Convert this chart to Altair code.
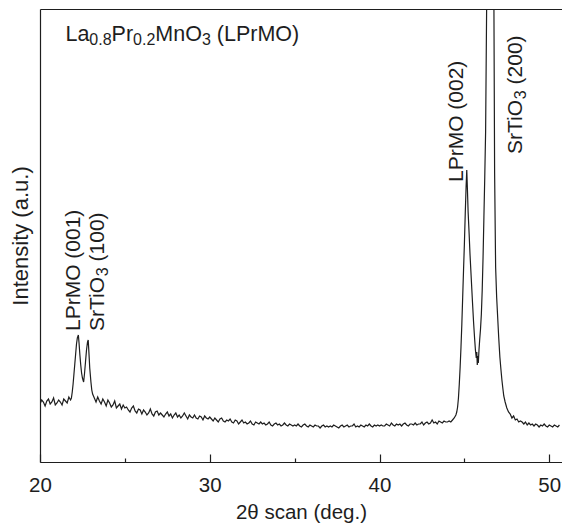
import altair as alt
import pandas as pd

# ---------------- data ----------------
# 2-theta (deg.) and intensity (arbitrary units)
two_theta = [
    20.0, 20.1, 20.2, 20.3, 20.4, 20.5, 20.6, 20.7, 20.8, 20.9,
    21.0, 21.1, 21.2, 21.3, 21.4, 21.5, 21.6, 21.7, 21.8,
    21.85, 21.9, 21.95, 22.0, 22.05, 22.1, 22.15, 22.2, 22.26, 22.3,
    22.35, 22.4, 22.45, 22.5, 22.57, 22.62, 22.68, 22.74, 22.8, 22.84,
    22.88, 22.93, 23.0, 23.05, 23.1, 23.2,
    23.3, 23.4, 23.5, 23.6, 23.7, 23.8, 23.9, 24.0,
    24.1, 24.2, 24.3, 24.4, 24.5, 24.6, 24.7, 24.8, 24.9, 25.0,
    25.1, 25.2, 25.3, 25.4, 25.5, 25.6, 25.7, 25.8, 25.9, 26.0,
    26.1, 26.2, 26.3, 26.4, 26.5, 26.6, 26.7, 26.8, 26.9, 27.0,
    27.1, 27.2, 27.3, 27.4, 27.5, 27.6, 27.7, 27.8, 27.9, 28.0,
    28.1, 28.2, 28.3, 28.4, 28.5, 28.6, 28.7, 28.8, 28.9, 29.0,
    29.1, 29.2, 29.3, 29.4, 29.5, 29.6, 29.7, 29.8, 29.9, 30.0,
    30.1, 30.2, 30.3, 30.4, 30.5, 30.6, 30.7, 30.8, 30.9, 31.0,
    31.1, 31.2, 31.3, 31.4, 31.5, 31.6, 31.7, 31.8, 31.9, 32.0,
    32.1, 32.2, 32.3, 32.4, 32.5, 32.6, 32.7, 32.8, 32.9, 33.0,
    33.1, 33.2, 33.3, 33.4, 33.5, 33.6, 33.7, 33.8, 33.9, 34.0,
    34.1, 34.2, 34.3, 34.4, 34.5, 34.6, 34.7, 34.8, 34.9, 35.0,
    35.1, 35.2, 35.3, 35.4, 35.5, 35.6, 35.7, 35.8, 35.9, 36.0,
    36.1, 36.2, 36.3, 36.4, 36.5, 36.6, 36.7, 36.8, 36.9, 37.0,
    37.1, 37.2, 37.3, 37.4, 37.5, 37.6, 37.7, 37.8, 37.9, 38.0,
    38.1, 38.2, 38.3, 38.4, 38.5, 38.6, 38.7, 38.8, 38.9, 39.0,
    39.1, 39.2, 39.3, 39.4, 39.5, 39.6, 39.7, 39.8, 39.9, 40.0,
    40.1, 40.2, 40.3, 40.4, 40.5, 40.6, 40.7, 40.8, 40.9, 41.0,
    41.1, 41.2, 41.3, 41.4, 41.5, 41.6, 41.7, 41.8, 41.9, 42.0,
    42.1, 42.2, 42.3, 42.4, 42.5, 42.6, 42.7, 42.8, 42.9, 43.0,
    43.1, 43.2, 43.3, 43.4, 43.5, 43.6, 43.7, 43.8, 43.9, 44.0,
    44.1, 44.2, 44.3, 44.4,
    44.5, 44.55, 44.6, 44.65, 44.7, 44.75, 44.8, 44.85, 44.9, 44.95,
    45.0, 45.05, 45.1, 45.14, 45.18, 45.22, 45.28, 45.33, 45.4, 45.47,
    45.54, 45.6, 45.65, 45.7, 45.73, 45.76, 45.79, 45.82, 45.86, 45.9,
    45.95, 46.0, 46.05, 46.1, 46.15, 46.2, 46.25, 46.31, 46.38, 46.5,
    46.62, 46.74, 46.78, 46.84, 46.9, 46.96, 47.02, 47.09, 47.15, 47.21,
    47.27, 47.32, 47.4, 47.5, 47.6, 47.7, 47.8, 47.9, 48.0, 48.1,
    48.2, 48.3,
    48.4, 48.5, 48.6, 48.7, 48.8, 48.9, 49.0, 49.1, 49.2, 49.3,
    49.4, 49.5, 49.6, 49.7, 49.8, 49.9, 50.0, 50.1, 50.2, 50.3,
    50.4, 50.5, 50.6,
]
intensity = [
    58, 62, 60, 56, 61, 63, 58, 60, 64, 57,
    59, 62, 60, 57, 63, 61, 59, 65, 62,
    64, 70, 78, 88, 98, 108, 118, 124, 127, 119,
    107, 97, 89, 84, 80, 88, 100, 112, 120, 122,
    110, 94, 80, 72, 68, 64,
    60, 65, 61, 58, 63, 60, 56, 62,
    59, 55, 57, 61, 54, 56, 58, 53, 57, 54,
    55, 52, 50, 54, 56, 51, 49, 53, 52, 48,
    52, 50, 47, 49, 53, 48, 46, 50, 51, 47,
    49, 47, 45, 48, 50, 46, 48, 44, 47, 49,
    45, 47, 44, 46, 49, 46, 43, 47, 45, 44,
    47, 44, 43, 46, 45, 42, 46, 44, 43, 45,
    43, 41, 44, 42, 40, 43, 44, 41, 40, 42,
    41, 43, 40, 39, 42, 41, 38, 40, 42, 39,
    40, 38, 39, 41, 38, 37, 40, 39, 38, 40,
    38, 39, 37, 38, 40, 37, 36, 38, 39, 37,
    38, 36, 37, 39, 37, 36, 38, 37, 36, 37,
    36, 38, 36, 35, 37, 38, 36, 35, 37, 36,
    35, 37, 36, 36, 34, 36, 37, 35, 36, 35,
    36, 35, 37, 36, 35, 34, 36, 37, 35, 36,
    37, 35, 36, 36, 38, 35, 36, 35, 37, 36,
    35, 37, 36, 38, 36, 35, 37, 36, 37, 36,
    37, 36, 36, 38, 37, 36, 39, 37, 36, 38,
    37, 38, 36, 38, 39, 37, 36, 38, 38, 37,
    39, 37, 38, 38, 40, 37, 39, 40, 38, 39,
    42, 39, 40, 38, 41, 40, 39, 41, 40, 40,
    41, 40, 42, 44,
    47, 50, 55, 64, 78, 95, 115, 138, 165, 192,
    218, 248, 275, 292, 272, 250, 228, 208, 185, 162,
    140, 124, 112, 104, 110, 97, 106, 99, 112, 122,
    133, 148, 172, 205, 245, 285, 330, 454, 800, 1500,
    800, 454, 290, 195, 165, 145, 125, 105, 93, 82,
    73, 66, 60, 54, 50, 48, 44, 46, 42, 43,
    40, 41,
    40, 38, 40, 37, 39, 37, 38, 36, 38, 37,
    35, 37, 36, 38, 36, 35, 37, 36, 35, 37,
    36, 35, 37,
]

x_ticks_major = [20, 30, 40, 50]
x_ticks_minor = [25, 35, 45]
x_domain = [20, 50.75]
y_domain = [0, 453]

x_title = "2θ scan (deg.)"
y_title = "Intensity (a.u.)"

# compound title: (text, is_subscript)
title_pieces = [("La", False), ("0.8", True), ("Pr", False), ("0.2", True),
                ("MnO", False), ("3", True), (" (LPrMO)", False)]
title_anchor = (21.5, 421)

# peak labels: anchor (2theta, intensity) and pieces
peak_labels = [
    ((22.33, 131), [("LPrMO (001)", False)]),
    ((23.76, 131), [("SrTiO", False), ("3", True), (" (100)", False)]),
    ((44.9, 280), [("LPrMO (002)", False)]),
    ((48.4, 308), [("SrTiO", False), ("3", True), (" (200)", False)]),
]

# ---------------- styling ----------------
FONT = "Liberation Sans, Arial, Helvetica, sans-serif"
INK = "#1e1e1e"
ARIAL_W = {"L": 556, "a": 556, "P": 667, "r": 333, "M": 833, "n": 556, "O": 778,
           " ": 278, "(": 333, ")": 333, ".": 278, "S": 667, "T": 611, "i": 222}


def text_width(s, size):
    return sum(ARIAL_W.get(c, 556) for c in s) * size / 1000.0


df = pd.DataFrame({"two_theta": two_theta, "intensity": intensity})
xscale = alt.Scale(domain=x_domain, nice=False, zero=False)
yscale = alt.Scale(domain=y_domain, nice=False, zero=False)

line = alt.Chart(df).mark_line(color=INK, strokeWidth=1.2, clip=True).encode(
    x=alt.X("two_theta:Q", scale=xscale,
            axis=alt.Axis(values=x_ticks_major, ticks=False, domain=True,
                          domainColor=INK, domainWidth=1.2, grid=False,
                          labelFont=FONT, labelFontSize=20.5, labelColor=INK,
                          labelPadding=13, labelFlush=False, format="d",
                          title=x_title, titleFont=FONT, titleFontSize=20.5,
                          titleFontWeight="normal", titleColor=INK,
                          titlePadding=7)),
    y=alt.Y("intensity:Q", scale=yscale,
            axis=alt.Axis(ticks=False, labels=False, domain=True,
                          domainColor=INK, domainWidth=1.2, grid=False,
                          title=y_title, titleFont=FONT, titleFontSize=22,
                          titleFontWeight="normal", titleColor=INK,
                          titlePadding=8)),
)

extra_axes = [
    alt.Axis(orient="top", labels=False, ticks=False, domain=True,
             domainColor=INK, domainWidth=1.2, grid=False, title=None),
    alt.Axis(orient="bottom", offset=-8, values=x_ticks_major, ticks=True,
             tickSize=8, tickColor=INK, tickWidth=1.2, domain=False,
             labels=False, grid=False, title=None),
    alt.Axis(orient="bottom", offset=-4, values=x_ticks_minor, ticks=True,
             tickSize=4, tickColor=INK, tickWidth=1.2, domain=False,
             labels=False, grid=False, title=None),
]

text_specs = []  # (text, x, y, dx, dy, size, angle)


def add_pieces(anchor, pieces, size, sub_size, sub_dy, angle):
    dx = 0.0
    for txt, sub in pieces:
        s = sub_size if sub else size
        stripped = txt.lstrip(" ")
        lead = text_width(txt[: len(txt) - len(stripped)], s)
        text_specs.append((stripped, anchor[0], anchor[1], dx + lead,
                           sub_dy if sub else 0, s, angle))
        dx += text_width(txt, s)


add_pieces(title_anchor, title_pieces, 21.5, 16, 4, 0)
for anchor, pieces in peak_labels:
    add_pieces(anchor, pieces, 21, 16, 4, 270)

layers = [line]
for i, (txt, x, y, dx, dy, size, angle) in enumerate(text_specs):
    d = pd.DataFrame({"x": [x], "y": [y], "t": [txt]})
    axis = extra_axes[i] if i < len(extra_axes) else None
    layers.append(
        alt.Chart(d).mark_text(align="left", baseline="alphabetic", dx=dx,
                               dy=dy, fontSize=size, font=FONT, color=INK,
                               angle=angle).encode(
            x=alt.X("x:Q", scale=xscale, axis=axis),
            y=alt.Y("y:Q", scale=yscale, axis=None),
            text="t:N",
        )
    )

chart = alt.layer(*layers).resolve_axis(x="independent", y="independent").properties(
    width=522, height=453,
    padding={"left": 32, "top": 1, "right": 0, "bottom": 62},
    autosize=alt.AutoSizeParams(type="none"),
).configure_view(stroke=None)

chart.save("out.html", embed_options={"renderer": "svg", "actions": False})
